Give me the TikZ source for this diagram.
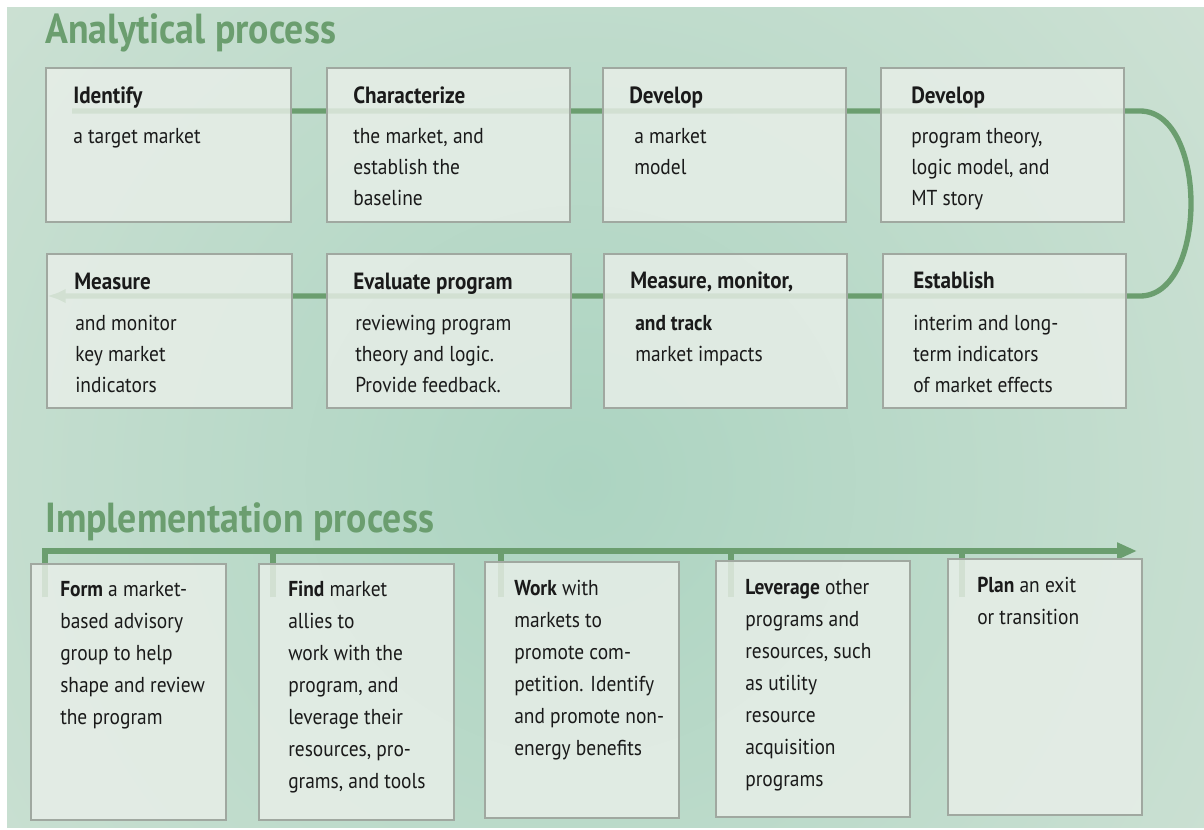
\documentclass[tikz,border=0pt]{standalone}
\usepackage{fontspec}
\setmainfont{PT Sans}[FakeStretch=0.9]
\usetikzlibrary{arrows.meta}
\definecolor{bgA}{HTML}{ACD4C1}
\definecolor{bgB}{HTML}{DAE6DB}
\definecolor{grn}{HTML}{6B9E6F}
\definecolor{boxfill}{HTML}{E9EFE9}
\definecolor{boxline}{HTML}{A0A8A0}
\definecolor{txt}{HTML}{1A1A1A}
\tikzset{
  panel/.style={draw=boxline, line width=0.9pt, fill=boxfill, fill opacity=0.82, anchor=north west, inner sep=0pt, outer sep=0pt},
  title/.style={anchor=base west, inner sep=0pt, text=grn, font=\fontsize{31.5}{32}\selectfont\bfseries},
  head/.style={anchor=base west, inner sep=0pt, text=txt, font=\fontsize{17.6}{19}\selectfont\bfseries},
  body/.style={anchor=base west, inner sep=0pt, text=txt, font=\fontsize{16.2}{23.25}\selectfont},
  ibody/.style={anchor=base west, inner sep=0pt, text=txt, font=\fontsize{16.2}{24}\selectfont},
  flow/.style={draw=grn, line width=4pt},
  tick/.style={draw=grn, line width=4.5pt},
}
\newcommand{\panelbox}[5]{\node[panel, minimum width={(#4-#2)*0.75pt}, minimum height={(#5-#3)*0.75pt}] (#1) at (#2,#3) {};}
\newcommand{\lines}[1]{\begin{tabular}[t]{@{}l@{}}#1\end{tabular}}
\begin{document}
\begin{tikzpicture}[x=0.75pt,y=-0.75pt]
\useasboundingbox (0,0) rectangle (1204,829);
% background
\fill[white] (0,0) rectangle (1204,829);
\begin{scope}
  \clip (7,7) rectangle (1204,827);
  \shade[inner color=bgA, outer color=bgB] (580,480) circle (1100);
\end{scope}

% titles
\node[title] (t1) at (45,43) {Analytical process};
\node[title] (t2) at (45,532) {Implementation process};

% analytical flow line (behind boxes)
\coordinate (fs) at (72,111);
\coordinate (fr1) at (1140,111);
\coordinate (fr2) at (1140,296);
\coordinate (fe) at (47,296);
\draw[flow, -{Latex[length=14pt,width=11pt]}] (fs) -- (fr1) .. controls (1208,111) and (1208,296) .. (fr2) -- (fe);

% implementation line and ticks
\coordinate (k1) at (45,597);
\coordinate (k2) at (273,597);
\coordinate (k3) at (501,597);
\coordinate (k4) at (731,597);
\coordinate (k5) at (962,597);
\coordinate (ktip) at (1137,551);
\draw[flow, -{Triangle[length=15pt,width=12pt]}] (k1) -- (45,551) -- (ktip);
\foreach \k in {k2,k3,k4,k5} \draw[tick] (\k) -- (\k |- 0,551);

% analytical boxes
\panelbox{a1}{46}{68}{291}{222}
\panelbox{a2}{327}{68}{570}{222}
\panelbox{a3}{603}{68}{846}{222}
\panelbox{a4}{881}{68}{1124}{222}
\panelbox{b1}{47}{254}{292}{408}
\panelbox{b2}{327}{254}{571}{408}
\panelbox{b3}{604}{254}{847}{408}
\panelbox{b4}{883}{254}{1126}{408}

% implementation boxes
\panelbox{c1}{31}{564}{226}{820}
\panelbox{c2}{259}{564}{454}{820}
\panelbox{c3}{485}{562}{679}{818}
\panelbox{c4}{716}{561}{910}{817}
\panelbox{c5}{948}{559}{1142}{815}

% analytical texts
\node[head] (a1h) at (73,103) {Identify};
\node[body] (a1b) at (73,143) {a target market};
\node[head] (a2h) at (353,103) {Characterize};
\node[body] (a2b) at (353,143) {\lines{the market, and\\establish the\\baseline}};
\node[head] (a3h) at (629,103) {Develop};
\node[body] (a3b) at (634,143) {\lines{a market\\model}};
\node[head] (a4h) at (911,103) {Develop};
\node[body] (a4b) at (911,143) {\lines{program theory,\\logic model, and\\MT story}};

\node[head] (b1h) at (74,289) {Measure};
\node[body] (b1b) at (75,330) {\lines{and monitor\\key market\\indicators}};
\node[head] (b2h) at (353,289) {Evaluate program};
\node[body] (b2b) at (355,330) {\lines{reviewing program\\theory and logic.\\Provide feedback.}};
\node[head] (b3h) at (630,288) {Measure, monitor,};
\node[body] (b3b) at (635,330) {\lines{\textbf{and track}\\market impacts}};
\node[head] (b4h) at (913,288) {Establish};
\node[body] (b4b) at (913,330) {\lines{interim and long-\\term indicators\\of market effects}};

% implementation texts
\node[ibody] (c1t) at (60,596) {\lines{\textbf{Form} a market-\\based advisory\\group to help\\shape and review\\the program}};
\node[ibody] (c2t) at (288,596) {\lines{\textbf{Find} market\\allies to\\work with the\\program, and\\leverage their\\resources, pro-\\grams, and tools}};
\node[ibody] (c3t) at (514,595) {\lines{\textbf{Work} with\\markets to\\promote com-\\petition. Identify\\and promote non-\\energy benefits}};
\node[ibody] (c4t) at (745,594) {\lines{\textbf{Leverage} other\\programs and\\resources, such\\as utility\\resource\\acquisition\\programs}};
\node[ibody] (c5t) at (977,592) {\lines{\textbf{Plan} an exit\\or transition}};
\end{tikzpicture}
\end{document}
